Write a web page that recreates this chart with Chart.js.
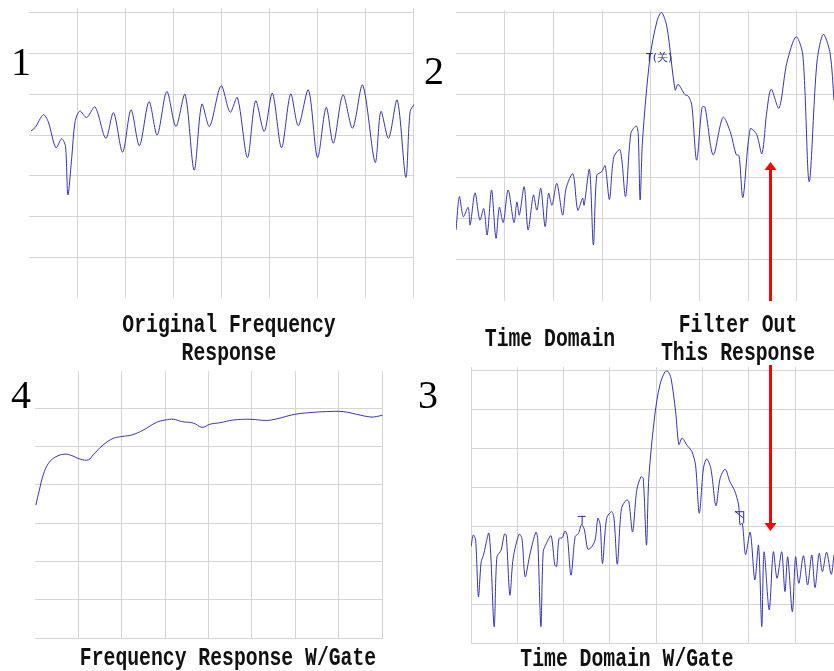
<!DOCTYPE html>
<html>
<head>
<meta charset="utf-8">
<script src="https://cdn.jsdelivr.net/npm/chart.js@4.4.1/dist/chart.umd.min.js"></script>
<style>
    body { margin: 0; background: #fff; width: 834px; height: 671px; position: relative; overflow: hidden; }
    canvas.plot { position: absolute; }
    #arrow { position: absolute; left: 0; top: 0; pointer-events: none; }
    .num { position: absolute; font-family: 'Liberation Serif', serif; font-size: 40px; line-height: 40px; color: #000; }
    .lbl { position: absolute; width: 440px; text-align: center; font-family: 'Liberation Mono', monospace; font-weight: bold;
           font-size: 25px; line-height: 28px; color: #111; transform: scaleX(0.79); transform-origin: center; white-space: nowrap; }
</style>
</head>
<body>

<canvas id="p1" class="plot" width="387" height="292" style="left:28px;top:7px"></canvas>
<canvas id="p2" class="plot" width="380" height="293" style="left:455px;top:9px"></canvas>
<canvas id="p3" class="plot" width="365" height="278" style="left:470px;top:366px"></canvas>
<canvas id="p4" class="plot" width="350" height="269" style="left:34px;top:370px"></canvas>
<canvas id="arrow" width="834" height="671"></canvas>

<div class="num" style="left:11px;top:42px">1</div>
<div class="num" style="left:424px;top:51px">2</div>
<div class="num" style="left:11px;top:375px">4</div>
<div class="num" style="left:418px;top:375px">3</div>

<div class="lbl" style="left:9px;top:312px">Original Frequency<br>Response</div>
<div class="lbl" style="left:330px;top:326px">Time Domain</div>
<div class="lbl" style="left:518px;top:312px">Filter Out<br>This Response</div>
<div class="lbl" style="left:8px;top:645px">Frequency Response W/Gate</div>
<div class="lbl" style="left:407px;top:646px">Time Domain W/Gate</div>

<script>
// -----------------------------
// Data (x in grid divisions, y in grid divisions)
// -----------------------------
const gridX8 = [0, 1, 2, 3, 4, 5, 6, 7, 8];
const gridX7 = [0, 1, 2, 3, 4, 5, 6, 7];
const gridY7 = [0, 1, 2, 3, 4, 5, 6, 7];
const gridY6 = [0, 1, 2, 3, 4, 5, 6];

// 1 - original frequency response
const freqX = [0.04,0.125,0.30,0.40,0.56,0.68,0.76,0.81,0.89,0.96,1.06,1.20,1.375,1.60,1.76,1.95,2.125,2.30,2.50,2.67,
    2.87,3.06,3.25,3.44,3.60,3.76,4.00,4.19,4.34,4.55,4.72,4.90,5.07,5.26,5.45,5.61,5.82,6.01,6.19,6.34,
    6.54,6.74,6.95,7.21,7.33,7.49,7.67,7.85,7.94,8.04];
const freqY = [4.10,4.18,4.50,4.33,3.69,3.91,3.72,2.53,3.44,4.33,4.59,4.43,4.69,3.92,4.55,3.58,4.62,3.74,4.82,4.00,
    5.07,4.21,5.00,3.14,4.76,4.21,5.21,4.56,4.92,3.45,4.84,4.09,5.03,3.69,5.01,4.23,5.11,3.45,4.68,3.80,
    4.99,4.17,5.23,3.33,4.58,3.92,4.86,2.96,4.58,4.78];

// 2 - time domain
const timeX = [0,0.07,0.15,0.25,0.29,0.39,0.49,0.57,0.64,0.73,0.82,0.89,0.97,1.07,1.19,1.25,1.30,1.40,1.48,1.59,
    1.66,1.74,1.83,1.90,1.97,2.07,2.19,2.26,2.40,2.50,2.60,2.63,2.74,2.82,2.89,2.99,3.06,3.15,3.24,3.37,
    3.48,3.59,3.70,3.74,3.78,3.83,3.98,4.13,4.22,4.33,4.50,4.56,4.70,4.77,4.84,4.94,5.05,5.11,5.28,5.48,
    5.63,5.75,5.81,5.89,6.04,6.17,6.28,6.38,6.47,6.63,6.79,6.98,7.12,7.25,7.41,7.54,7.68,7.76];
const timeY = [1.72,2.53,2.04,2.27,1.84,2.62,1.96,2.24,1.60,2.69,1.52,2.27,1.90,2.69,1.90,2.40,2.08,2.77,1.72,2.57,
    2.20,2.73,1.80,2.61,2.32,2.85,2.08,2.73,3.08,2.20,2.49,2.32,3.19,1.36,3.05,3.13,3.28,2.46,3.49,3.66,
    2.53,4.06,4.24,4.06,2.45,3.90,5.88,6.80,6.99,6.64,5.11,5.25,5.00,4.96,4.75,3.41,4.69,4.70,3.54,4.45,
    4.10,3.55,3.52,2.51,4.17,4.04,3.57,4.58,5.13,4.67,5.76,6.40,5.96,2.89,5.79,6.46,6.00,4.87];

// 3 - time domain with gate
const gatedTimeX = [0,0.05,0.10,0.16,0.22,0.27,0.39,0.50,0.56,0.65,0.72,0.76,0.84,0.91,1.04,1.10,1.17,1.27,1.40,1.44,
    1.51,1.56,1.63,1.73,1.81,1.85,1.90,1.97,2.03,2.08,2.16,2.25,2.32,2.39,2.45,2.52,2.59,2.68,2.74,2.79,
    2.84,2.93,3.04,3.09,3.16,3.25,3.36,3.41,3.49,3.58,3.67,3.72,3.79,3.84,3.97,4.08,4.19,4.25,4.32,4.42,
    4.49,4.56,4.66,4.77,4.85,4.93,5.02,5.09,5.18,5.29,5.38,5.49,5.59,5.69,5.78,5.81,5.86,5.93,6.03,6.13,
    6.21,6.28,6.33,6.44,6.53,6.61,6.71,6.78,6.84,6.94,7.01,7.08,7.18,7.27,7.36,7.43,7.52,7.59,7.68,7.78,7.84];
const gatedTimeY = [2.47,2.77,2.64,1.19,2.08,2.26,2.81,0.42,2.21,2.38,2.79,2.77,1.23,2.17,2.79,2.68,1.70,2.26,2.84,2.68,
    0.42,2.34,2.56,2.75,2.00,1.96,2.68,2.70,2.87,2.75,1.74,2.73,2.81,3.04,2.90,2.41,2.44,2.64,3.20,3.03,
    2.04,3.20,3.37,3.18,2.02,3.45,3.67,3.62,2.85,3.92,4.26,4.22,2.51,4.22,5.85,6.62,6.96,6.97,6.79,5.93,
    5.09,5.26,5.08,4.91,4.56,3.33,4.48,4.72,4.48,3.52,4.22,4.46,4.14,3.92,3.54,3.03,3.07,2.27,2.84,1.62,
    2.51,0.42,2.34,0.85,2.34,1.66,2.34,1.32,2.21,0.80,2.21,1.53,2.24,1.49,2.26,1.42,2.30,1.83,2.33,1.76,2.26];

// 4 - frequency response with gate
const gatedFreqX = [0.02,0.10,0.19,0.31,0.48,0.69,0.85,1.04,1.23,1.34,1.57,1.80,2.00,2.23,2.50,2.80,3.00,3.19,3.38,3.65,
    3.85,4.03,4.26,4.57,4.95,5.34,5.57,5.99,6.41,6.72,7.10,7.41,7.72,7.87,8.01];
const gatedFreqY = [3.47,3.86,4.26,4.56,4.73,4.80,4.76,4.67,4.65,4.78,5.04,5.21,5.26,5.30,5.43,5.63,5.69,5.71,5.65,5.61,
    5.50,5.58,5.62,5.69,5.71,5.68,5.72,5.84,5.89,5.91,5.91,5.84,5.77,5.78,5.82];

// gate markers: [x, y]
const startMarkerP2 = [3.90, 6.0];
const startMarkerP3 = [2.39, 3.26, 3.04];
const stopMarkerP3 = [5.70, 3.38, 5.89, 3.07];

// -----------------------------
// Helpers
// -----------------------------
const GRID = '#d5d5d5';
const TRACE = '#3434b4';

function axis(max, ticks, firstVisible) {
    return {
        type: 'linear', min: 0, max: max,
        afterBuildTicks: s => { s.ticks = ticks.map(v => ({ value: v })); },
        ticks: { display: false },
        border: { display: false },
        grid: {
            drawTicks: false, lineWidth: 1,
            color: c => (c.tick && c.tick.value >= firstVisible) ? GRID : 'rgba(0,0,0,0)'
        }
    };
}

const markerPlugin = {
    id: 'markers',
    afterDatasetsDraw(chart, args, opts) {
        if (!opts.draw) return;
        const ctx = chart.ctx;
        ctx.save();
        opts.draw(ctx, chart.scales.x, chart.scales.y);
        ctx.restore();
    }
};

function makeChart(id, xs, ys, xMax, xTicks, xFirst, yMax, yTicks, yFirst, tension, draw) {
    return new Chart(document.getElementById(id), {
        type: 'line',
        data: {
            datasets: [{
                data: xs.map((x, i) => ({ x: x, y: ys[i] })),
                borderColor: TRACE, borderWidth: 1, pointRadius: 0, tension: tension, fill: false
            }]
        },
        options: {
            responsive: false, animation: false, events: [],
            layout: { padding: 1 },
            plugins: { legend: { display: false }, tooltip: { enabled: false }, markers: { draw: draw } },
            scales: { x: axis(xMax, xTicks, xFirst), y: axis(yMax, yTicks, yFirst) }
        },
        plugins: [markerPlugin]
    });
}

// -----------------------------
// Charts
// -----------------------------
makeChart('p1', freqX, freqY, 8.02, gridX8, 1, 7.12, gridY7, 1, 0.3);

makeChart('p2', timeX, timeY, 7.76, gridX7, 1, 7.05, gridY7, 1, 0.3, (ctx, x, y) => {
    ctx.fillStyle = '#2a2aa0';
    ctx.font = '11px "DejaVu Sans", sans-serif';
    ctx.textBaseline = 'top';
    ctx.fillText('T(关)', x.getPixelForValue(startMarkerP2[0]), y.getPixelForValue(startMarkerP2[1]) - 1);
});

makeChart('p3', gatedTimeX, gatedTimeY, 7.84, gridX7, 0, 7.08, gridY7, 0, 0.3, (ctx, x, y) => {
    ctx.strokeStyle = '#2a2aa0';
    ctx.lineWidth = 1;
    const tx = x.getPixelForValue(startMarkerP3[0]);
    const ty = y.getPixelForValue(startMarkerP3[1]);
    ctx.beginPath();
    ctx.moveTo(tx - 4, ty + 0.5); ctx.lineTo(tx + 4, ty + 0.5);
    ctx.moveTo(tx + 0.5, ty); ctx.lineTo(tx + 0.5, y.getPixelForValue(startMarkerP3[2]));
    ctx.stroke();
    const ax = x.getPixelForValue(stopMarkerP3[0]), ay = y.getPixelForValue(stopMarkerP3[1]);
    const bx = x.getPixelForValue(stopMarkerP3[2]), by = y.getPixelForValue(stopMarkerP3[3]);
    ctx.beginPath();
    ctx.moveTo(ax, ay + 0.5); ctx.lineTo(bx, ay + 0.5);
    ctx.moveTo(ax, ay); ctx.lineTo(bx, ay + 7);
    ctx.moveTo(bx, ay); ctx.lineTo(bx, by);
    ctx.stroke();
});

makeChart('p4', gatedFreqX, gatedFreqY, 8.02, gridX8, 1, 6.97, gridY6, 0, 0.4);

// -----------------------------
// Red arrows (annotation)
// -----------------------------
const a = document.getElementById('arrow').getContext('2d');
a.fillStyle = '#ff0000';
a.fillRect(769, 168, 3, 133);
a.fillRect(769, 365, 3, 160);
a.beginPath();
a.moveTo(770.5, 162); a.lineTo(776.5, 170); a.lineTo(764.5, 170); a.closePath();
a.fill();
a.beginPath();
a.moveTo(770.5, 531); a.lineTo(776.5, 523); a.lineTo(764.5, 523); a.closePath();
a.fill();
</script>
</body>
</html>
